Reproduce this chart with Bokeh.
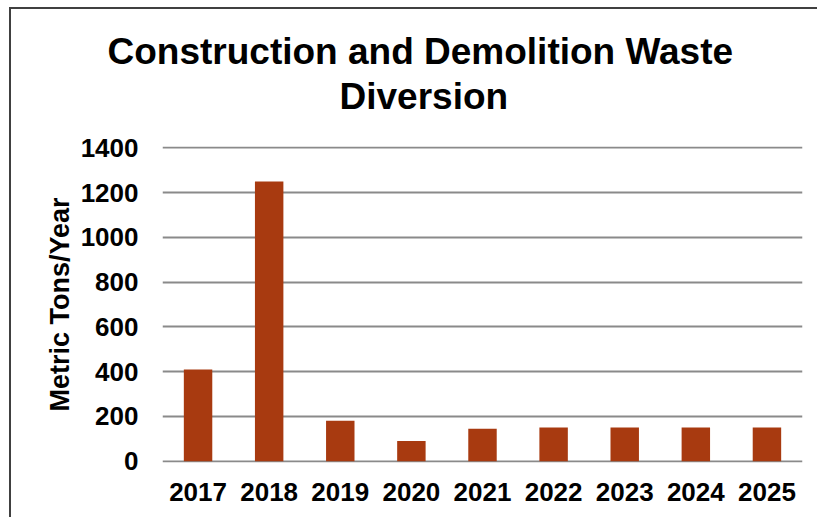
from bokeh.plotting import figure
from bokeh.models import Title, FactorRange, Range1d, FixedTicker
from bokeh.embed import file_html
from bokeh.resources import INLINE

years = ["2017", "2018", "2019", "2020", "2021", "2022", "2023", "2024", "2025"]
tons = [410, 1250, 180, 90, 145, 150, 150, 150, 150]
y_ticks = [0, 200, 400, 600, 800, 1000, 1200, 1400]
title_lines = ["Construction and Demolition Waste", "Diversion"]
y_label = "Metric Tons/Year"

FONT = "Liberation Sans"
W, H = 808, 510

p = figure(
    x_range=FactorRange(*years, range_padding=0),
    y_range=Range1d(-6, 1406),
    width=W, height=H,
    output_backend="svg", toolbar_location=None,
    min_border_left=151, min_border_right=17, min_border_bottom=57, min_border_top=137,
    styles={"border-top": "2px solid #404040", "border-left": "2px solid #404040",
            "margin-left": "9px", "margin-top": "7px"},
)
p.outline_line_color = None

p.vbar(x=years, top=tons, width=0.4, fill_color="#A83A10", line_color=None)

# spacer between the plot area and the title block
p.add_layout(Title(text=" ", text_font=FONT, text_font_size="25px", standoff=0), "above")
# title lines, bottom one first (centred on the whole chart, not the plot area)
for txt, so, off in zip(reversed(title_lines), [0, 4], [177, -55]):
    p.add_layout(Title(text=txt, align="left", text_font=FONT, text_font_size="37px",
                       text_font_style="bold", text_color="black", standoff=so,
                       offset=off), "above")

p.yaxis.ticker = FixedTicker(ticks=y_ticks)
p.yaxis.axis_label = y_label
p.yaxis.axis_label_text_font = FONT
p.yaxis.axis_label_text_font_size = "27px"
p.yaxis.axis_label_text_font_style = "bold"
p.yaxis.axis_label_text_color = "black"
p.yaxis.axis_label_standoff = 3

for ax in (p.xaxis, p.yaxis):
    ax.major_label_text_font = FONT
    ax.major_label_text_font_size = "26px"
    ax.major_label_text_font_style = "bold"
    ax.major_label_text_color = "black"
    ax.axis_line_color = None
    ax.major_tick_line_color = None
    ax.minor_tick_line_color = None

p.yaxis.major_label_standoff = 18
p.xaxis.major_label_standoff = 14

p.xgrid.grid_line_color = None
p.ygrid.grid_line_color = "#8a8a8a"
p.ygrid.grid_line_width = 2

open("out.html", "w").write(file_html(p, INLINE))
